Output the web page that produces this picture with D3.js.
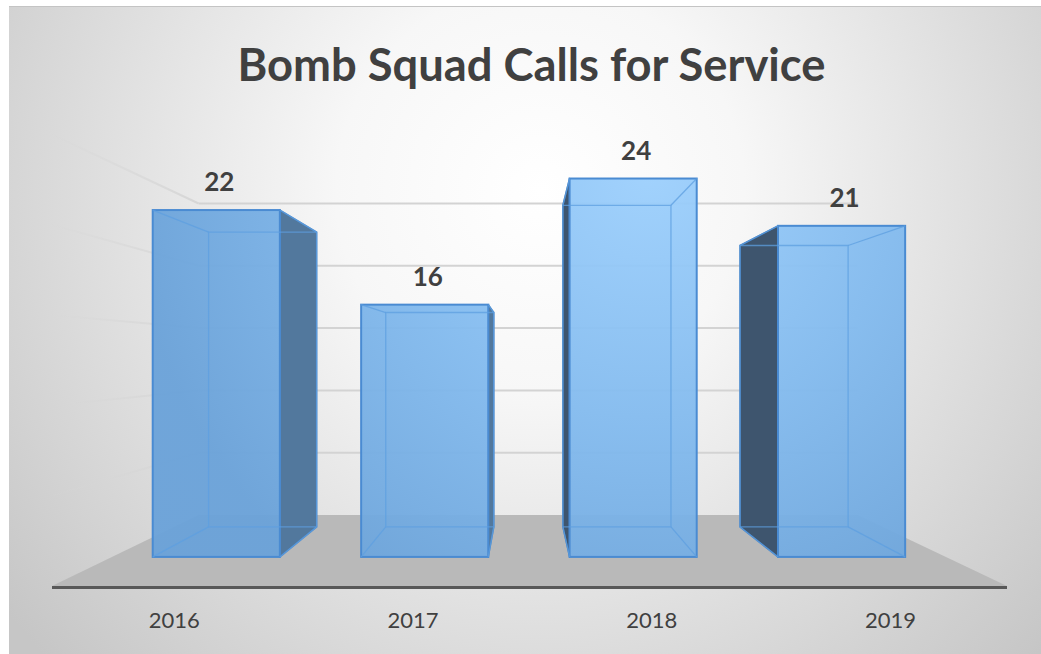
<!DOCTYPE html>
<html><head><meta charset="utf-8">
<script src="https://cdn.jsdelivr.net/npm/d3@7"></script>
<style>body{margin:0;background:#fff}svg{display:block}</style>
</head><body><svg id="c" width="1041" height="654"></svg>
<script>
const categories = ["2016", "2017", "2018", "2019"];
const values = [22, 16, 24, 21];
const gridValues = [5, 10, 15, 20, 25];
const title = "Bomb Squad Calls for Service";

const svg = d3.select("#c");
const defs = svg.append("defs");

// simple perspective projection toward a vanishing point
const VP = {x: 525, y: 357};
const K_WALL = 0.69, K_FRONT = 0.873, K_BACK = 0.742;
const x = d3.scaleBand().domain(categories).range([52, 1007]).paddingInner(0.39).paddingOuter(0.195);
const y = d3.scaleLinear().domain([0, 25]).range([586, 134.5]);
const P = (X, Y, k) => [VP.x + k * (X - VP.x), VP.y + k * (Y - VP.y)];
const floorL = x.range()[0], floorR = x.range()[1];

// background gradient
const bg = defs.append("radialGradient").attr("id", "bg").attr("gradientUnits", "userSpaceOnUse")
  .attr("cx", 540).attr("cy", 190).attr("r", 680);
bg.append("stop").attr("offset", 0).attr("stop-color", "#ffffff");
bg.append("stop").attr("offset", 0.3).attr("stop-color", "#f7f7f7");
bg.append("stop").attr("offset", 1).attr("stop-color", "#c6c6c6");

const fr = defs.append("radialGradient").attr("id", "front").attr("gradientUnits", "userSpaceOnUse")
  .attr("cx", 650).attr("cy", 170).attr("r", 520);
fr.append("stop").attr("offset", 0).attr("stop-color", "#9dd0fd");
fr.append("stop").attr("offset", 0.5).attr("stop-color", "#82baee");
fr.append("stop").attr("offset", 1).attr("stop-color", "#6aa2d9");

const lw = defs.append("linearGradient").attr("id", "lwall").attr("gradientUnits", "userSpaceOnUse")
  .attr("x1", 40).attr("y1", 0).attr("x2", 200).attr("y2", 0);
lw.append("stop").attr("offset", 0).attr("stop-color", "#d6d6d6").attr("stop-opacity", 0);
lw.append("stop").attr("offset", 1).attr("stop-color", "#d6d6d6").attr("stop-opacity", 1);

svg.append("rect").attr("x", 9).attr("y", 6).attr("width", 1032).attr("height", 648).attr("fill", "url(#bg)");
svg.append("line").attr("x1", 9).attr("x2", 1041).attr("y1", 6.5).attr("y2", 6.5).attr("stroke", "#c4c4c4").attr("stroke-width", 1);

// back wall gridlines
gridValues.forEach(v => {
  const a = P(floorL, y(v), K_WALL), b = P(floorR, y(v), K_WALL);
  svg.append("line").attr("x1", a[0]).attr("y1", a[1]).attr("x2", b[0]).attr("y2", b[1])
    .attr("stroke", "#d3d3d3").attr("stroke-width", 2);
  const c = P(floorL, y(v), 1);
  svg.append("line").attr("x1", c[0]).attr("y1", c[1]).attr("x2", a[0]).attr("y2", a[1])
    .attr("stroke", "url(#lwall)").attr("stroke-width", 2);
});

// floor
const floorPts = [P(floorL, y(0), 1), P(floorR, y(0), 1), P(floorR, y(0), K_WALL), P(floorL, y(0), K_WALL)];
svg.append("polygon").attr("points", floorPts.map(p => p.join(",")).join(" ")).attr("fill", "#b9b9b9");
svg.append("line").attr("x1", floorL).attr("x2", floorR).attr("y1", y(0) + 1.5).attr("y2", y(0) + 1.5)
  .attr("stroke", "#585858").attr("stroke-width", 3);

// bars
const poly = pts => pts.map(p => p.join(",")).join(" ");
categories.forEach((cat, i) => {
  const v = values[i];
  const X0 = x(cat), X1 = x(cat) + x.bandwidth(), Yt = y(v), Yb = y(0);
  const fTL = P(X0, Yt, K_FRONT), fTR = P(X1, Yt, K_FRONT), fBL = P(X0, Yb, K_FRONT), fBR = P(X1, Yb, K_FRONT);
  const bTL = P(X0, Yt, K_BACK), bTR = P(X1, Yt, K_BACK), bBL = P(X0, Yb, K_BACK), bBR = P(X1, Yb, K_BACK);
  const g = svg.append("g");
  // side faces
  if (bTR[0] > fTR[0]) {
    g.append("polygon").attr("points", poly([fTR, bTR, bBR, fBR]))
      .attr("fill", "#52789d").attr("stroke", "#4a84c4").attr("stroke-width", 1.5).attr("stroke-linejoin", "round");
  }
  if (bTL[0] < fTL[0]) {
    g.append("polygon").attr("points", poly([fTL, bTL, bBL, fBL]))
      .attr("fill", "#3e556e").attr("stroke", "#3f78b8").attr("stroke-width", 1.5).attr("stroke-linejoin", "round");
  }
  // front face
  g.append("rect").attr("x", fTL[0]).attr("y", fTL[1]).attr("width", fTR[0] - fTL[0]).attr("height", fBL[1] - fTL[1])
    .attr("fill", "url(#front)").attr("fill-opacity", 0.95)
    .attr("stroke", "#4a8bd2").attr("stroke-width", 2);
  // inner (back) edges seen through
  const inner = g.append("g").attr("stroke", "#5d9fe0").attr("stroke-width", 1.3).attr("fill", "none").attr("stroke-opacity", 0.75);
  inner.append("polygon").attr("points", poly([bTL, bTR, bBR, bBL]));
  [[fTL, bTL], [fTR, bTR], [fBL, bBL], [fBR, bBR]].forEach(([a, b]) => {
    inner.append("line").attr("x1", a[0]).attr("y1", a[1]).attr("x2", b[0]).attr("y2", b[1]);
  });
  // value label
  svg.append("text").attr("x", (fTL[0] + fTR[0]) / 2 + 3).attr("y", fTL[1] - 19)
    .attr("text-anchor", "middle").attr("font-family", "Lato, 'Open Sans', sans-serif").attr("font-weight", 700)
    .attr("font-size", 26).attr("fill", "#404040").text(v);
  // category label
  const c = P(X0 + x.bandwidth() / 2, Yb, 1);
  svg.append("text").attr("x", c[0] + 3).attr("y", 628).attr("text-anchor", "middle")
    .attr("font-family", "Lato, 'Open Sans', sans-serif").attr("font-size", 22).attr("fill", "#404040").text(cat);
});

// title
svg.append("text").attr("x", 531.5).attr("y", 81).attr("text-anchor", "middle")
  .attr("font-family", "Lato, 'Open Sans', sans-serif").attr("font-weight", 700).attr("font-size", 46)
  .attr("fill", "#404040").attr("textLength", 588).attr("lengthAdjust", "spacingAndGlyphs").text(title);
</script>
</body></html>
